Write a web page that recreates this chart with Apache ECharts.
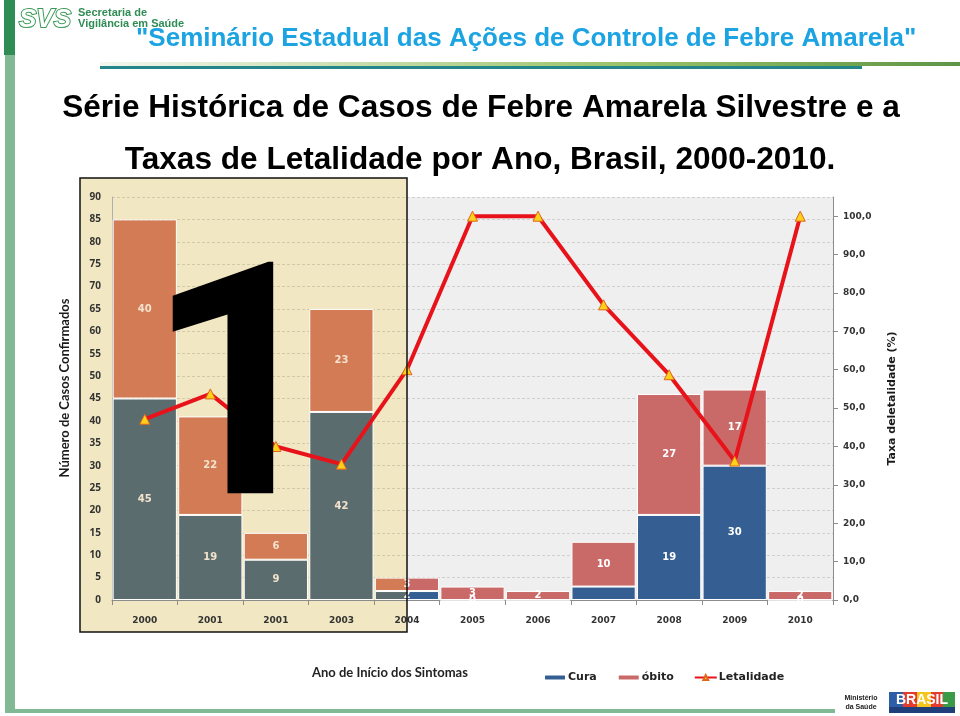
<!DOCTYPE html>
<html><head><meta charset="utf-8">
<script src="https://cdn.jsdelivr.net/npm/echarts@6/dist/echarts.min.js"></script>
<style>html,body{margin:0;padding:0;background:#fff}#c{width:960px;height:716px}</style>
</head><body><div id="c"></div><script>
// ---- data ----
const years = ['2000','2001','2001','2003','2004','2005','2006','2007','2008','2009','2010'];
const cura = [45, 19, 9, 42, 2, 0, 0, 3, 19, 30, 0];
const obito = [40, 22, 6, 23, 3, 3, 2, 10, 27, 17, 2];
const letalidade = [47.1, 53.7, 40.0, 35.4, 60.0, 100.0, 100.0, 76.9, 58.7, 36.2, 100.0];
const casosAxis = {min: 0, max: 90, interval: 5};
const taxaAxis = {min: 0, max: 105, interval: 10};
const curaLabelHidden = [6, 7];
const legendNames = ['Cura', 'óbito', 'Letalidade'];

// ---- styling ----
const C = {cura:'#355e92', obito:'#c96a68', curaHL:'#5b6c6e', obitoHL:'#d27b55',
           bg:'#efefef', hl:'#f1e7c2', line:'#e8131a'};
const HL_FULL = 3, HL_SPLIT = 4, SPLIT_AT = 0.49;
function splitColor(a, b) {
  return {type:'linear', x:0, y:0, x2:1, y2:0, colorStops:[
    {offset:0, color:a}, {offset:SPLIT_AT, color:a}, {offset:SPLIT_AT, color:b}, {offset:1, color:b}]};
}
function colorFor(i, hl, normal) {
  if (i <= HL_FULL) return hl;
  if (i === HL_SPLIT) return splitColor(hl, normal);
  return normal;
}
function labelColor(i) { return i <= HL_FULL ? '#f3e3cd' : '#ffffff'; }

const curaData = cura.map((v, i) => ({
  value: v,
  itemStyle: {color: colorFor(i, C.curaHL, C.cura)},
  label: {show: curaLabelHidden.indexOf(i) < 0, color: labelColor(i)}
}));
const obitoData = obito.map((v, i) => ({
  value: v,
  itemStyle: {color: colorFor(i, C.obitoHL, C.obito)},
  label: {color: labelColor(i)}
}));

const barLabel = {show:true, position:'inside', fontSize:10, fontWeight:'bold', fontFamily:'DejaVu Sans'};

const chart = echarts.init(document.getElementById('c'), null, {renderer:'canvas'});
chart.setOption({
  animation: false,
  backgroundColor: '#ffffff',
  grid: {left:112, right:127, top:197, bottom:116, containLabel:false},
  legend: {
    data: legendNames, left: 543, top: 672, padding: 0, itemWidth: 22, itemHeight: 6, itemGap: 20,
    textStyle: {fontFamily:'DejaVu Sans', fontWeight:'bold', fontSize:11, color:'#222', padding:[0,0,0,-3]}
  },
  xAxis: {
    type: 'category', data: years,
    axisLine: {lineStyle:{color:'#8c8c8c'}},
    axisTick: {show:true, length:5, lineStyle:{color:'#8c8c8c'}},
    axisLabel: {margin:16, fontFamily:'DejaVu Sans', fontWeight:'bold', fontSize:9, color:'#333'}
  },
  yAxis: [{
    type: 'value', min: casosAxis.min, max: casosAxis.max, interval: casosAxis.interval,
    axisLine: {show:true, lineStyle:{color:'#b0b0b0'}},
    axisTick: {show:false},
    axisLabel: {margin:11, fontFamily:'Noto Sans', fontWeight:'bold', fontSize:10, color:'#333'},
    splitLine: {show:true, lineStyle:{color:'rgba(0,0,0,0.13)', type:[3,2]}}
  }, {
    type: 'value', min: taxaAxis.min, max: taxaAxis.max, interval: taxaAxis.interval,
    position: 'right',
    name: 'Taxa deletalidade (%)', nameLocation: 'middle', nameRotate: 90, nameGap: 54,
    nameTextStyle: {fontFamily:'DejaVu Sans', fontWeight:'bold', fontSize:11, color:'#1a1a1a'},
    axisLine: {show:true, lineStyle:{color:'#8c8c8c'}},
    axisTick: {show:true, length:5, lineStyle:{color:'#8c8c8c'}},
    axisLabel: {margin:10, showMaxLabel:false, fontFamily:'DejaVu Sans', fontWeight:'bold', fontSize:9, color:'#333',
      formatter: v => v.toFixed(1).replace('.', ',')},
    splitLine: {show:false}
  }],
  series: [{
    name: 'Cura', type: 'bar', stack: 'casos', yAxisIndex: 0, data: curaData,
    barCategoryGap: '2%', itemStyle: {color: C.cura, borderColor:'#ffffff', borderWidth:1},
    label: barLabel, z: 2
  }, {
    name: 'óbito', type: 'bar', stack: 'casos', yAxisIndex: 0, data: obitoData,
    barCategoryGap: '2%', itemStyle: {color: C.obito, borderColor:'#ffffff', borderWidth:1},
    label: barLabel, z: 2
  }, {
    name: 'Letalidade', type: 'line', yAxisIndex: 1, data: letalidade,
    lineStyle: {color: C.line, width: 4},
    symbol: 'triangle', symbolSize: 10,
    itemStyle: {color:'#ffd11a', borderColor:'#e0661a', borderWidth:1},
    z: 4
  }],
  graphic: [
    // slide decoration
    {type:'rect', z:-5, shape:{x:4, y:0, width:11, height:55}, style:{fill:'#2f8c55'}},
    {type:'rect', z:-5, shape:{x:5, y:55, width:10, height:658}, style:{fill:'#80b993'}},
    {type:'rect', z:-5, shape:{x:5, y:709, width:830, height:4}, style:{fill:'#80b993'}},
    {type:'text', z:5, style:{x:19, y:20, text:'SVS', font:'italic bold 26px "Liberation Sans"',
      fill:'#ffffff', stroke:'#3a9a55', lineWidth:2, textVerticalAlign:'middle'}},
    {type:'text', z:5, style:{x:78, y:13, text:'Secretaria de', font:'bold 11px "Liberation Sans"',
      fill:'#2f8c55', textVerticalAlign:'middle'}},
    {type:'text', z:5, style:{x:78, y:24, text:'Vigilância em Saúde', font:'bold 11px "Liberation Sans"',
      fill:'#2f8c55', textVerticalAlign:'middle'}},
    {type:'text', z:5, style:{x:136, y:39, text:'"Seminário Estadual das Ações de Controle de Febre Amarela"',
      font:'bold 26px "Liberation Sans"', fill:'#1ba3e2', textVerticalAlign:'middle'}},
    {type:'rect', z:-5, shape:{x:100, y:62, width:860, height:4}, style:{fill:{type:'linear', x:0, y:0, x2:1, y2:0,
      colorStops:[{offset:0, color:'#f3f7ee'}, {offset:0.6, color:'#9cc46a'}, {offset:1, color:'#5e9545'}]}}},
    {type:'rect', z:-5, shape:{x:100, y:66, width:762, height:3}, style:{fill:'#24858a'}},
    // titles
    {type:'text', z:5, style:{x:481, y:108, text:'Série Histórica de Casos de Febre Amarela Silvestre e a',
      font:'bold 31.6px "Liberation Sans"', fill:'#000', textAlign:'center', textVerticalAlign:'middle'}},
    {type:'text', z:5, style:{x:480, y:160, text:'Taxas de Letalidade por Ano, Brasil, 2000-2010.',
      font:'bold 31.6px "Liberation Sans"', fill:'#000', textAlign:'center', textVerticalAlign:'middle'}},
    // left axis title
    {type:'text', z:5, x:65, y:388, rotation:Math.PI/2, style:{x:0, y:0, text:'Número de Casos Confirmados',
      font:'bold 13px Lato', fill:'#1a1a1a', textAlign:'center', textVerticalAlign:'middle'}},
    // plot backgrounds
    {type:'rect', z:-3, shape:{x:112, y:197, width:721, height:403}, style:{fill:C.bg}},
    {type:'rect', z:-2, shape:{x:80, y:178, width:327, height:454}, style:{fill:C.hl}},
    {type:'rect', z:50, shape:{x:80, y:178, width:327, height:454}, style:{fill:null, stroke:'#111', lineWidth:1.5}},
    // big overlay digit
    {type:'text', z:100, style:{x:146, y:412, text:'1', font:'bold 325px Roboto', fill:'#000',
      textVerticalAlign:'middle'}},
    // x axis title
    {type:'text', z:5, style:{x:312, y:673, text:'Ano de Início dos Sintomas', font:'bold 13px Lato',
      fill:'#222', textVerticalAlign:'middle'}},
    // footer logos
    {type:'text', z:5, style:{x:861, y:698, text:'Ministério', font:'bold 7px "Liberation Sans"', fill:'#222',
      textAlign:'center', textVerticalAlign:'middle'}},
    {type:'text', z:5, style:{x:861, y:707, text:'da Saúde', font:'bold 7px "Liberation Sans"', fill:'#222',
      textAlign:'center', textVerticalAlign:'middle'}},
    {type:'rect', z:4, shape:{x:889, y:692, width:14, height:15}, style:{fill:'#2d5fa8'}},
    {type:'rect', z:4, shape:{x:903, y:692, width:14, height:15}, style:{fill:'#e33b2e'}},
    {type:'rect', z:4, shape:{x:917, y:692, width:14, height:15}, style:{fill:'#f4c51a'}},
    {type:'rect', z:4, shape:{x:931, y:692, width:12, height:15}, style:{fill:'#e33b2e'}},
    {type:'rect', z:4, shape:{x:943, y:692, width:12, height:15}, style:{fill:'#3a9a46'}},
    {type:'text', z:5, style:{x:922, y:700, text:'BRASIL', font:'bold 14px "Liberation Sans"', fill:'#ffffff',
      textAlign:'center', textVerticalAlign:'middle'}},
    {type:'rect', z:4, shape:{x:889, y:707, width:66, height:6}, style:{fill:'#1f3f7a'}}
  ]
});
</script></body></html>
